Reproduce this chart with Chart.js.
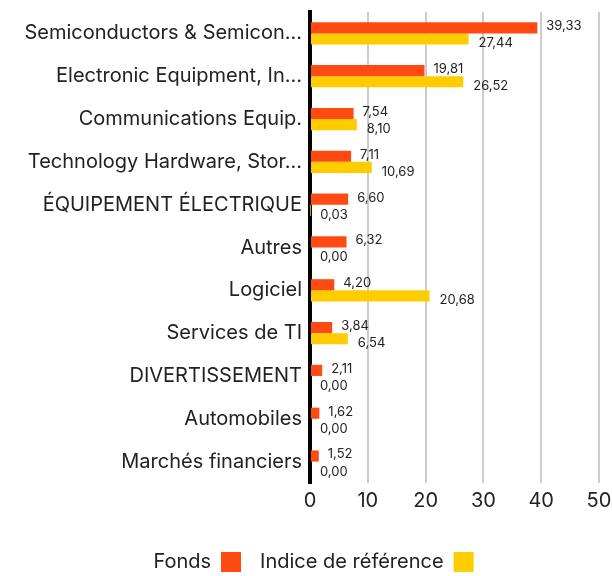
<!DOCTYPE html>
<html><head><meta charset="utf-8">
<script src="https://cdn.jsdelivr.net/npm/chart.js@4/dist/chart.umd.min.js"></script>
<style>html,body{margin:0;padding:0;background:#fff}#wrap{width:612px;height:576px}</style>
</head><body><div id="wrap"><canvas id="c" width="612" height="576"></canvas></div>
<script>
const categories = ["Semiconductors & Semicon...","Electronic Equipment, In...","Communications Equip.","Technology Hardware, Stor...","ÉQUIPEMENT ÉLECTRIQUE","Autres","Logiciel","Services de TI","DIVERTISSEMENT","Automobiles","Marchés financiers"];
const fonds = [39.33,19.81,7.54,7.11,6.60,6.32,4.20,3.84,2.11,1.62,1.52];
const indice = [27.44,26.52,8.10,10.69,0.03,0.00,20.68,6.54,0.00,0.00,0.00];
const xTicks = [0,10,20,30,40,50];
const seriesNames = ["Fonds","Indice de référence"];

const FONT = "Inter, 'Noto Sans', sans-serif";
const fmt = v => v.toFixed(2).replace('.', ',');

const labelPlugin = {
  id: 'vlabels',
  afterLayout(chart) {
    const lg = chart.legend;
    if (lg) { lg.top += 6; lg.bottom += 6; lg.left += 14; lg.right += 14; }
  },
  afterDatasetsDraw(chart) {
    const ctx = chart.ctx;
    ctx.save();
    ctx.font = "13px " + FONT;
    ctx.fillStyle = '#222';
    ctx.textBaseline = 'middle';
    ctx.textAlign = 'left';
    chart.data.datasets.forEach((ds, di) => {
      const meta = chart.getDatasetMeta(di);
      meta.data.forEach((el, i) => {
        const dy = di === 0 ? -1.5 : 4.5;
        const dx = di === 0 ? 9 : 10;
        ctx.fillText(fmt(ds.data[i]), el.x + dx, el.y + dy);
      });
    });
    ctx.restore();
  }
};

new Chart(document.getElementById('c'), {
  type: 'bar',
  data: {
    labels: categories,
    datasets: [
      {label: seriesNames[0], data: fonds, backgroundColor: '#ff4a14', barPercentage: 1, categoryPercentage: 0.52},
      {label: seriesNames[1], data: indice, backgroundColor: '#ffcc00', barPercentage: 1, categoryPercentage: 0.52}
    ]
  },
  options: {
    indexAxis: 'y',
    responsive: false,
    animation: false,
    layout: {padding: {top: 3, right: 13, left: 0, bottom: 0}},
    plugins: {
      tooltip: {enabled: false},
      legend: {
        position: 'bottom',
        rtl: true,
        reverse: true,
        textDirection: 'ltr',
        labels: {boxWidth: 20, boxHeight: 20, padding: 19, color: '#222', font: {size: 20, family: FONT}},
      }
    },
    scales: {
      x: {
        min: 0, max: 50,
        afterBuildTicks: s => { s.ticks = xTicks.map(v => ({value: v})); },
        afterFit: s => { s.height += 8; s.paddingRight = 0; s.paddingLeft = 0; },
        grid: {color: '#cccccc', lineWidth: 2, drawTicks: false},
        border: {display: false},
        ticks: {color: '#222', font: {size: 20, family: FONT}, padding: 6}
      },
      y: {
        afterFit: s => { s.width = 310; },
        grid: {display: false},
        border: {color: '#000', width: 4},
        ticks: {color: '#222', font: {size: 20, family: FONT}, padding: 0}
      }
    }
  },
  plugins: [labelPlugin]
});
</script></body></html>
